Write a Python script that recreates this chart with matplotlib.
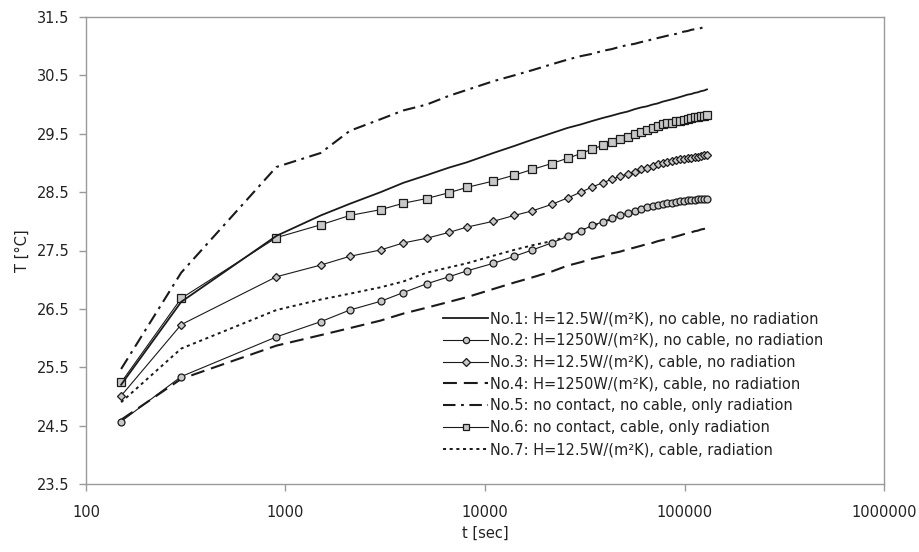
import matplotlib
matplotlib.use("Agg")
import matplotlib.pyplot as plt
from matplotlib.ticker import FixedLocator, FixedFormatter, NullLocator

plt.rcParams['font.family'] = ['DejaVu Sans']
plt.rcParams['lines.scale_dashes'] = False

# time points [sec]
t = [150, 300, 900, 1500, 2100, 3000, 3900, 5100, 6600, 8100, 11000, 14000, 17300,
     21600, 25920, 30240, 34560, 38880, 43200, 47520, 51840, 56160, 60480, 64800,
     69120, 73440, 77760, 82080, 86400, 90720, 95040, 99360, 103680, 108000,
     112320, 116640, 120960, 125280, 129600]

no1 = [25.20, 26.62, 27.75, 28.10, 28.30, 28.50, 28.66, 28.79, 28.92, 29.01, 29.17, 29.29, 29.40,
       29.51, 29.60, 29.66, 29.72, 29.77, 29.81, 29.85, 29.88, 29.92, 29.95, 29.97,
       30.00, 30.02, 30.05, 30.07, 30.09, 30.11, 30.13, 30.15, 30.17, 30.18,
       30.20, 30.21, 30.23, 30.24, 30.26]
no2 = [24.57, 25.34, 26.02, 26.28, 26.48, 26.63, 26.78, 26.93, 27.05, 27.15, 27.28, 27.40, 27.51,
       27.63, 27.74, 27.84, 27.93, 27.99, 28.05, 28.10, 28.14, 28.18, 28.21, 28.24,
       28.26, 28.28, 28.30, 28.31, 28.32, 28.33, 28.34, 28.35, 28.36, 28.37,
       28.37, 28.38, 28.38, 28.39, 28.39]
no3 = [25.01, 26.23, 27.05, 27.25, 27.40, 27.51, 27.63, 27.71, 27.81, 27.90, 28.00, 28.10, 28.18,
       28.29, 28.40, 28.50, 28.59, 28.66, 28.72, 28.77, 28.81, 28.85, 28.89, 28.92,
       28.95, 28.98, 29.00, 29.02, 29.03, 29.05, 29.06, 29.07, 29.08, 29.09,
       29.10, 29.11, 29.12, 29.13, 29.14]
no4 = [24.60, 25.30, 25.87, 26.05, 26.17, 26.30, 26.42, 26.52, 26.62, 26.70, 26.84, 26.95, 27.04,
       27.14, 27.24, 27.30, 27.36, 27.40, 27.45, 27.48, 27.52, 27.55, 27.58, 27.61,
       27.63, 27.66, 27.68, 27.70, 27.72, 27.74, 27.76, 27.78, 27.80, 27.81,
       27.83, 27.84, 27.86, 27.87, 27.89]
no5 = [25.47, 27.12, 28.93, 29.17, 29.55, 29.75, 29.90, 30.00, 30.15, 30.25, 30.40, 30.50, 30.59,
       30.69, 30.77, 30.83, 30.87, 30.92, 30.95, 30.99, 31.02, 31.04, 31.07, 31.09,
       31.12, 31.14, 31.16, 31.18, 31.20, 31.21, 31.23, 31.25, 31.26, 31.28,
       31.29, 31.30, 31.31, 31.33, 31.34]
no6 = [25.24, 26.68, 27.72, 27.94, 28.10, 28.20, 28.31, 28.39, 28.49, 28.58, 28.69, 28.79, 28.89,
       28.99, 29.08, 29.16, 29.24, 29.30, 29.36, 29.41, 29.45, 29.49, 29.53, 29.57,
       29.60, 29.63, 29.66, 29.68, 29.69, 29.71, 29.72, 29.74, 29.75, 29.77,
       29.78, 29.79, 29.80, 29.81, 29.82]
no7 = [24.90, 25.82, 26.48, 26.66, 26.76, 26.87, 26.97, 27.12, 27.21, 27.28, 27.41, 27.51, 27.59,
       27.66, 27.74, 27.84, 27.92, 27.98, 28.04, 28.09, 28.13, 28.17, 28.20, 28.23,
       28.25, 28.27, 28.29, 28.30, 28.31, 28.32, 28.33, 28.34, 28.35, 28.36,
       28.36, 28.37, 28.37, 28.38, 28.38]

labels = ["No.1: H=12.5W/(m\u00b2K), no cable, no radiation",
          "No.2: H=1250W/(m\u00b2K), no cable, no radiation",
          "No.3: H=12.5W/(m\u00b2K), cable, no radiation",
          "No.4: H=1250W/(m\u00b2K), cable, no radiation",
          "No.5: no contact, no cable, only radiation",
          "No.6: no contact, cable, only radiation",
          "No.7: H=12.5W/(m\u00b2K), cable, radiation"]

xticks = [100, 1000, 10000, 100000, 1000000]
xticklabels = ["100", "1000", "10000", "100000", "1000000"]
yticks = [23.5, 24.5, 25.5, 26.5, 27.5, 28.5, 29.5, 30.5, 31.5]

fig = plt.figure(figsize=(9.2, 5.52), dpi=100)
ax = fig.add_axes([86/920, 1-484/552, (884-86)/920, (484-17)/552])

k = '#1a1a1a'
mfc = '#c8c8c8'
l1, = ax.plot(t, no1, color=k, lw=1.3, zorder=4)
l7, = ax.plot(t, no7, color=k, lw=1.4, dashes=(2.2, 2.6), zorder=2)
l2, = ax.plot(t, no2, color=k, lw=0.8, marker='o', ms=5, mfc=mfc, mec=k, mew=0.9, zorder=3)
l3, = ax.plot(t, no3, color=k, lw=0.8, marker='D', ms=4, mfc=mfc, mec=k, mew=0.9, zorder=3)
l4, = ax.plot(t, no4, color=k, lw=1.5, dashes=(10, 5), zorder=2)
l5, = ax.plot(t, no5, color=k, lw=1.5, dashes=(9, 4, 2, 4), zorder=2)
l6, = ax.plot(t, no6, color=k, lw=0.8, marker='s', ms=5.5, mfc=mfc, mec=k, mew=0.9, zorder=3)

ax.set_xscale('log')
ax.set_xlim(100, 1000000)
ax.set_ylim(23.5, 31.5)
ax.xaxis.set_major_locator(FixedLocator(xticks))
ax.xaxis.set_major_formatter(FixedFormatter(xticklabels))
ax.xaxis.set_minor_locator(NullLocator())
ax.set_yticks(yticks)
ax.set_yticklabels(["%.1f" % v for v in yticks])

for s in ax.spines.values():
    s.set_color('#9a9a9a')
    s.set_linewidth(1.0)
ax.tick_params(axis='both', colors='#9a9a9a', length=5, width=1.0, labelcolor='#222222', labelsize=10.5)
ax.tick_params(axis='x', pad=10)
ax.tick_params(axis='y', pad=7)

ax.set_xlabel("t [sec]", fontsize=10.5, color='#222222', labelpad=4)
ax.set_ylabel("T [\u00b0C]", fontsize=10.5, color='#222222', labelpad=5)

leg = fig.legend([l1, l2, l3, l4, l5, l6, l7], labels, loc='upper left',
                 bbox_to_anchor=(443/920, 1-311/552), frameon=False, fontsize=10.5,
                 handlelength=3.1, handletextpad=0.15, labelspacing=0.47,
                 borderpad=0, borderaxespad=0, markerscale=0.9)
for txt in leg.get_texts():
    txt.set_color('#222222')

fig.savefig('out.png', dpi=100)
